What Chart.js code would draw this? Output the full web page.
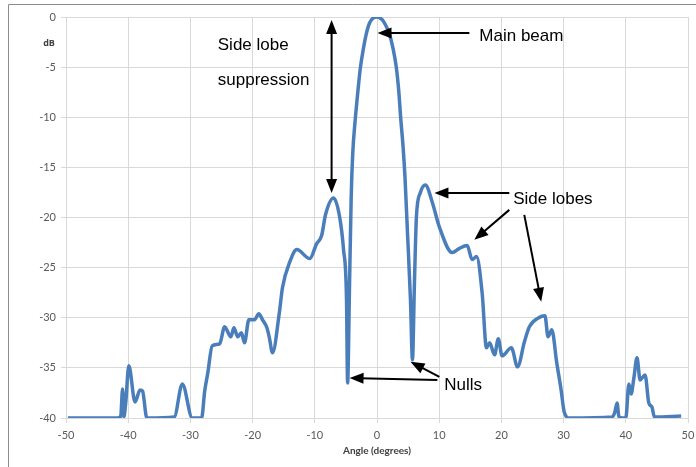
<!DOCTYPE html>
<html>
<head>
<meta charset="utf-8">
<script src="https://cdn.jsdelivr.net/npm/chart.js@4"></script>
<style>
  html, body { margin: 0; padding: 0; background: #ffffff; }
  #wrap { width: 696px; height: 467px; position: relative; }
</style>
</head>
<body>
<div id="wrap"><canvas id="c" width="696" height="467"></canvas></div>
<script>
// ---- Data ----
const angles = [
  -49.7, -41.7, -41.2, -40.9, -40.7, -40.4, -39.9, -38.9, -38.1, -37.7, -37.0,
  -32.6, -31.3, -29.7, -28.2, -27.7, -27.2, -26.5, -25.3, -24.5, -23.5, -23.0,
  -22.4, -21.8, -21.3, -20.6, -19.7, -19.0, -18.4, -17.7, -17.3, -16.8, -15.7,
  -15.2, -14.0, -12.9, -10.8, -9.7, -8.9, -8.27, -6.98, -6.02, -5.38, -4.9,
  -4.73, -4.41, -4.15, -3.9, -3.55, -3.1, -2.7, -2.2, -1.73, -1.2, -0.6, 0.0,
  0.5, 1.0, 1.5, 2.0, 2.6, 3.1, 3.5, 3.8, 4.2, 4.5, 4.9, 5.38, 5.7, 6.02, 6.34,
  6.98, 7.78, 8.9, 10.0, 12.1, 13.2, 14.5, 15.3, 16.0, 16.9, 17.6, 18.1, 18.9,
  19.5, 20.1, 21.6, 22.6, 23.7, 24.5, 26.0, 27.0, 27.5, 28.1, 28.9, 29.6, 30.1,
  30.9, 37.8, 38.2, 38.6, 38.9, 40.0, 40.5, 40.85, 41.3, 41.8, 42.3, 43.1, 43.7,
  44.2, 44.6, 48.9
];
const gainDb = [
  -40.0, -40.0, -39.8, -37.1, -39.9, -38.5, -34.8, -38.4, -37.2, -37.3, -40.0,
  -39.9, -36.6, -40.0, -40.0, -37.3, -35.5, -32.8, -32.6, -30.9, -31.9, -31.0,
  -31.9, -31.5, -32.5, -30.2, -30.2, -29.6, -30.2, -31.0, -32.0, -33.5, -29.5,
  -27.0, -24.4, -23.2, -24.1, -22.6, -21.8, -19.7, -18.05, -19.9, -23.2, -28.2,
  -36.5, -26.5, -18.0, -13.6, -10.6, -7.6, -5.2, -3.2, -1.7, -0.6, -0.1, 0.0,
  -0.1, -0.4, -0.95, -1.7, -3.2, -5.0, -7.4, -10.0, -13.0, -16.0, -21.5, -28.2,
  -34.2, -26.5, -19.9, -17.5, -16.75, -18.5, -20.9, -23.5, -23.1, -22.8, -24.2,
  -23.9, -27.5, -33.0, -32.5, -33.7, -32.1, -33.8, -33.0, -34.9, -32.4, -30.9,
  -30.0, -29.8, -31.9, -31.2, -34.5, -37.2, -39.4, -40.0, -39.9, -39.5, -38.5,
  -39.9, -40.0, -36.6, -37.6, -36.0, -34.0, -36.2, -35.7, -38.5, -38.9, -39.9,
  -39.8
];
const xTicks = [-50, -40, -30, -20, -10, 0, 10, 20, 30, 40, 50];
const yTicks = [0, -5, -10, -15, -20, -25, -30, -35, -40];

// Annotation texts (anchored in data coordinates)
const labels = [
  { text: 'Main beam', x: 16.45, y: -2.4 },
  { text: 'Side lobe', x: -25.6, y: -3.3 },
  { text: 'suppression', x: -25.6, y: -6.8 },
  { text: 'Side lobes', x: 21.9, y: -18.65 },
  { text: 'Nulls', x: 10.8, y: -37.2 }
];
// Arrows: [tailX, tailY, tipX, tipY, doubleHeaded]
const arrows = [
  [14.85, -1.6, 0.08, -1.6, false],
  [-7.3, -17.55, -7.3, -0.3, true],
  [21.27, -17.55, 9.23, -17.55, false],
  [21.27, -19.24, 15.65, -22.23, false],
  [23.68, -19.74, 26.4, -28.4, false],
  [9.71, -36.2, -4.41, -36.0, false],
  [10.03, -35.9, 5.38, -34.4, false]
];

const points = angles.map((a, i) => ({ x: a, y: gainDb[i] }));

function drawHead(ctx, fx, fy, tx, ty) {
  const ang = Math.atan2(ty - fy, tx - fx);
  const L = 14, W = 5.5;
  ctx.beginPath();
  ctx.moveTo(tx, ty);
  ctx.lineTo(tx - L * Math.cos(ang) + W * Math.sin(ang), ty - L * Math.sin(ang) - W * Math.cos(ang));
  ctx.lineTo(tx - L * Math.cos(ang) - W * Math.sin(ang), ty - L * Math.sin(ang) + W * Math.cos(ang));
  ctx.closePath();
  ctx.fill();
}

const decor = {
  id: 'decor',
  beforeDraw(chart) {
    const ctx = chart.ctx;
    ctx.save();
    ctx.fillStyle = '#ffffff';
    ctx.fillRect(0, 0, chart.width, chart.height);
    ctx.strokeStyle = '#8c8c8c';
    ctx.lineWidth = 1;
    ctx.beginPath();
    ctx.moveTo(8.5, 467);
    ctx.lineTo(8.5, 4.5);
    ctx.lineTo(696, 4.5);
    ctx.stroke();
    ctx.restore();
  },
  afterDraw(chart) {
    const ctx = chart.ctx;
    const xs = chart.scales.x, ys = chart.scales.y;
    ctx.save();
    // dB unit label
    ctx.fillStyle = '#404040';
    ctx.font = 'bold 9px "Open Sans", sans-serif';
    ctx.textAlign = 'center';
    ctx.textBaseline = 'middle';
    ctx.fillText('dB', 49, 43);
    // annotation texts
    ctx.fillStyle = '#000000';
    ctx.font = '17px "Liberation Sans", Arial, sans-serif';
    ctx.textAlign = 'left';
    ctx.textBaseline = 'alphabetic';
    labels.forEach(l => {
      ctx.fillText(l.text, xs.getPixelForValue(l.x), ys.getPixelForValue(l.y));
    });
    // arrows
    ctx.strokeStyle = '#000000';
    ctx.lineWidth = 2;
    arrows.forEach(a => {
      const x1 = xs.getPixelForValue(a[0]), y1 = ys.getPixelForValue(a[1]);
      const x2 = xs.getPixelForValue(a[2]), y2 = ys.getPixelForValue(a[3]);
      const ang = Math.atan2(y2 - y1, x2 - x1);
      const sx = a[4] ? x1 + 10 * Math.cos(ang) : x1, sy = a[4] ? y1 + 10 * Math.sin(ang) : y1;
      ctx.beginPath();
      ctx.moveTo(sx, sy);
      ctx.lineTo(x2 - 10 * Math.cos(ang), y2 - 10 * Math.sin(ang));
      ctx.stroke();
      drawHead(ctx, x1, y1, x2, y2);
      if (a[4]) drawHead(ctx, x2, y2, x1, y1);
    });
    ctx.restore();
  }
};

new Chart(document.getElementById('c'), {
  type: 'line',
  data: {
    datasets: [{
      data: points,
      borderColor: '#4a7ebb',
      borderWidth: 3.5,
      pointRadius: 0,
      fill: false,
      cubicInterpolationMode: 'monotone'
    }]
  },
  options: {
    responsive: false,
    animation: false,
    devicePixelRatio: 1,
    layout: { padding: { top: 17, right: 8, left: 0, bottom: 0 } },
    plugins: { legend: { display: false }, tooltip: { enabled: false } },
    scales: {
      x: {
        type: 'linear',
        min: -50, max: 50,
        afterBuildTicks(scale) { scale.ticks = xTicks.map(v => ({ value: v })); },
        afterFit(scale) { scale.height = 49; scale.paddingLeft = 0; scale.paddingRight = 0; },
        grid: { color: '#d9d9d9', lineWidth: 1, tickLength: 5 },
        border: { color: '#d9d9d9' },
        ticks: { color: '#595959', font: { family: 'Lato, "Open Sans", sans-serif', size: 11 }, padding: 6, maxRotation: 0, autoSkip: false },
        title: { display: true, text: 'Angle (degrees)', color: '#404040', font: { family: 'Lato, "Open Sans", sans-serif', size: 10, weight: 'bold' }, padding: { top: 0, bottom: 10 } }
      },
      y: {
        min: -40, max: 0,
        afterBuildTicks(scale) { scale.ticks = yTicks.map(v => ({ value: v })); },
        afterFit(scale) { scale.width = 66; },
        grid: { color: '#d9d9d9', lineWidth: 1, tickLength: 5 },
        border: { color: '#d9d9d9' },
        ticks: { color: '#595959', font: { family: 'Lato, "Open Sans", sans-serif', size: 11 }, padding: 5, autoSkip: false }
      }
    }
  },
  plugins: [decor]
});
</script>
</body>
</html>
